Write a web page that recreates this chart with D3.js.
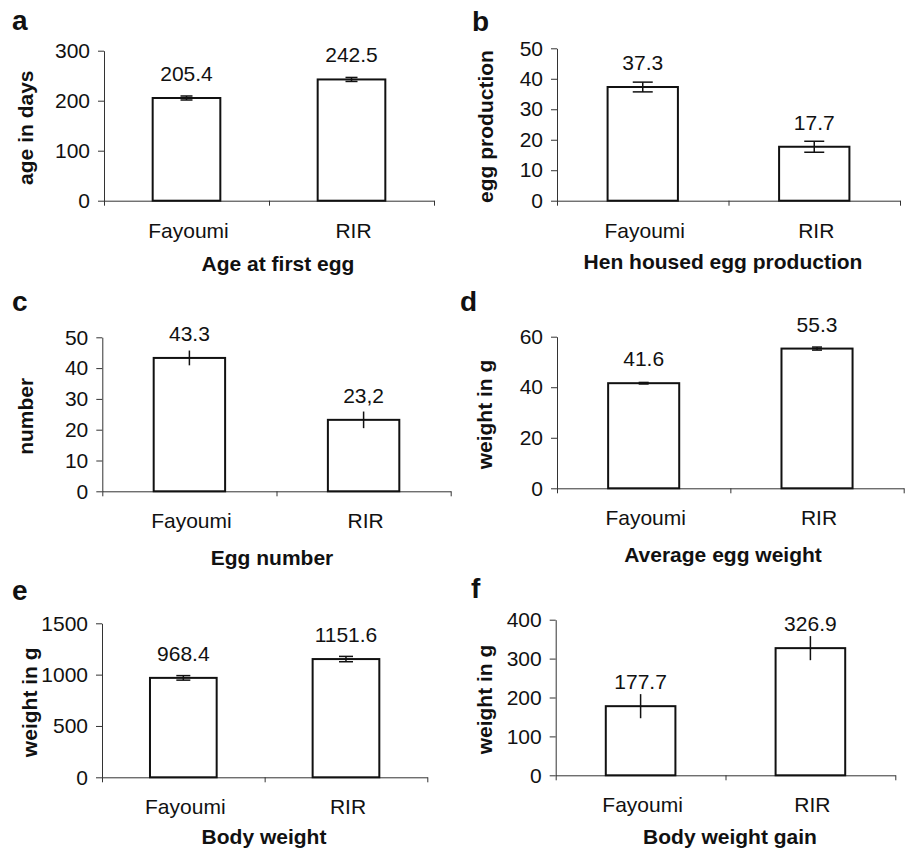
<!DOCTYPE html>
<html>
<head>
<meta charset="utf-8">
<script src="https://cdn.jsdelivr.net/npm/d3@7"></script>
<style>
  html, body { margin: 0; padding: 0; background: #fff; }
  svg { display: block; font-family: "Liberation Sans", Arial, sans-serif; }
</style>
</head>
<body>
<svg id="chart" width="906" height="852"></svg>
<script>
// data, one entry per panel (a..f)
const categories = ["Fayoumi", "RIR"];
const panelLetters = ["a", "b", "c", "d", "e", "f"];
const xTitles = ["Age at first egg", "Hen housed egg production", "Egg number",
                 "Average egg weight", "Body weight", "Body weight gain"];
const yTitles = ["age in days", "egg production", "number",
                 "weight in g", "weight in g", "weight in g"];
const means = [[205.4, 242.5], [37.3, 17.7], [43.3, 23.2],
               [41.6, 55.3], [968.4, 1151.6], [177.7, 326.9]];
const meanLabels = [["205.4", "242.5"], ["37.3", "17.7"], ["43.3", "23,2"],
                    ["41.6", "55.3"], ["968.4", "1151.6"], ["177.7", "326.9"]];
const errors = [[4, 4], [1.6, 1.8], [2.4, 2.7], [0.3, 0.6], [22, 26], [31, 31]];
const yTicks = [[0, 100, 200, 300], [0, 10, 20, 30, 40, 50], [0, 10, 20, 30, 40, 50],
                [0, 20, 40, 60], [0, 500, 1000, 1500], [0, 100, 200, 300, 400]];

const boxes = [
  { x0: 104,   x1: 434,   yTop: 50.7,  yZero: 200.7, cap: 12, letter: [12, 30],   titleX: 278, yTitleX: 27 },
  { x0: 557,   x1: 900,   yTop: 48.3,  yZero: 200.7, cap: 20, letter: [472, 31],  titleX: 723, yTitleX: 487 },
  { x0: 102.3, x1: 450.7, yTop: 337.3, yZero: 491.3, cap: 0,  letter: [12, 311],  titleX: 272, yTitleX: 27 },
  { x0: 557,   x1: 903.7, yTop: 336.7, yZero: 488.3, cap: 10, letter: [460, 311], titleX: 723, yTitleX: 486 },
  { x0: 102,   x1: 427.3, yTop: 623.3, yZero: 777.3, cap: 14, letter: [12, 600],  titleX: 264, yTitleX: 31 },
  { x0: 555.7, x1: 895.3, yTop: 619.7, yZero: 775.3, cap: 0,  letter: [471, 598], titleX: 730, yTitleX: 486 }
];
const titleOffsets = [70, 68, 74, 74, 67, 69];

const svg = d3.select("#chart");

boxes.forEach((b, i) => {
  const g = svg.append("g");
  const ticks = yTicks[i];

  const x = d3.scaleBand()
    .domain(categories)
    .range([b.x0, b.x1])
    .paddingInner(0.59)
    .paddingOuter(0.295);

  const y = d3.scaleLinear()
    .domain([0, ticks[ticks.length - 1]])
    .range([b.yZero, b.yTop]);

  // y axis
  const yAxis = g.append("g")
    .attr("transform", `translate(${b.x0},0)`)
    .call(d3.axisLeft(y).tickValues(ticks).tickFormat(d3.format("d"))
      .tickSize(6).tickSizeOuter(0).tickPadding(8));
  yAxis.select(".domain").attr("stroke", "#333");
  yAxis.selectAll(".tick line").attr("stroke", "#333");
  yAxis.selectAll("text")
    .attr("font-size", 21)
    .attr("font-family", "Liberation Sans, Arial, sans-serif")
    .attr("fill", "#111");

  // x axis: ticks between categories
  const xb = d3.scaleLinear().domain([0, categories.length]).range([b.x0, b.x1]);
  const xAxis = g.append("g")
    .attr("transform", `translate(0,${b.yZero})`)
    .call(d3.axisBottom(xb).tickValues(d3.range(categories.length + 1))
      .tickFormat("").tickSize(5).tickSizeOuter(0));
  xAxis.select(".domain").attr("stroke", "#333");
  xAxis.selectAll(".tick line").attr("stroke", "#333");

  // category labels
  g.selectAll("text.cat")
    .data(categories)
    .join("text")
    .attr("class", "cat")
    .attr("x", d => x(d) + x.bandwidth() / 2 + 2)
    .attr("y", b.yZero + 37)
    .attr("text-anchor", "middle")
    .attr("font-size", 21)
    .attr("fill", "#111")
    .text(d => d);

  const rows = categories.map((c, j) => ({
    cat: c, v: means[i][j], e: errors[i][j], label: meanLabels[i][j]
  }));

  // bars
  g.selectAll("rect.bar")
    .data(rows)
    .join("rect")
    .attr("class", "bar")
    .attr("x", d => x(d.cat))
    .attr("y", d => y(d.v))
    .attr("width", x.bandwidth())
    .attr("height", d => y(0) - y(d.v))
    .attr("fill", "#fff")
    .attr("stroke", "#111")
    .attr("stroke-width", 2);

  // error bars
  const cx = d => x(d.cat) + x.bandwidth() / 2;
  g.selectAll("line.err")
    .data(rows)
    .join("line")
    .attr("class", "err")
    .attr("x1", cx).attr("x2", cx)
    .attr("y1", d => y(d.v + d.e))
    .attr("y2", d => y(d.v - d.e))
    .attr("stroke", "#111")
    .attr("stroke-width", 1.5);

  if (b.cap > 0) {
    ["+", "-"].forEach(side => {
      g.selectAll("line.cap" + (side === "+" ? "hi" : "lo"))
        .data(rows)
        .join("line")
        .attr("x1", d => cx(d) - b.cap / 2)
        .attr("x2", d => cx(d) + b.cap / 2)
        .attr("y1", d => y(side === "+" ? d.v + d.e : d.v - d.e))
        .attr("y2", d => y(side === "+" ? d.v + d.e : d.v - d.e))
        .attr("stroke", "#111")
        .attr("stroke-width", 1.5);
    });
  }

  // value labels
  g.selectAll("text.val")
    .data(rows)
    .join("text")
    .attr("class", "val")
    .attr("x", cx)
    .attr("y", d => y(d.v) - 17)
    .attr("text-anchor", "middle")
    .attr("font-size", 21)
    .attr("fill", "#111")
    .text(d => d.label);

  // x title
  g.append("text")
    .attr("x", b.titleX)
    .attr("y", b.yZero + titleOffsets[i])
    .attr("text-anchor", "middle")
    .attr("font-size", 21)
    .attr("font-weight", "bold")
    .attr("fill", "#111")
    .text(xTitles[i]);

  // y title
  g.append("text")
    .attr("transform", `translate(${b.yTitleX},${(b.yTop + b.yZero) / 2 + 2}) rotate(-90)`)
    .attr("dy", "0.28em")
    .attr("text-anchor", "middle")
    .attr("font-size", 21)
    .attr("font-weight", "bold")
    .attr("fill", "#111")
    .text(yTitles[i]);

  // panel letter
  g.append("text")
    .attr("x", b.letter[0])
    .attr("y", b.letter[1])
    .attr("font-size", 28)
    .attr("font-weight", "bold")
    .attr("fill", "#111")
    .text(panelLetters[i]);
});
</script>
</body>
</html>
